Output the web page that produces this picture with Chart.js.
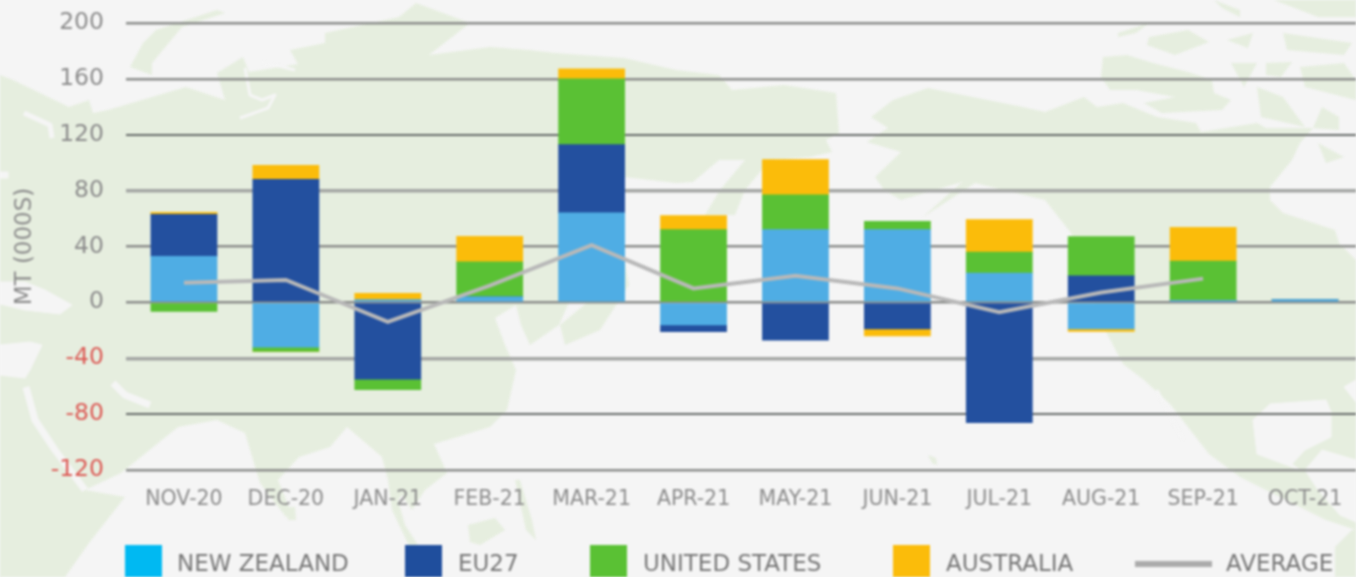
<!DOCTYPE html>
<html><head><meta charset="utf-8">
<script src="https://cdn.jsdelivr.net/npm/chart.js@4"></script>
<style>
html,body{margin:0;padding:0;background:#f5f5f5;overflow:hidden}
#wrap{position:relative;width:1356px;height:577px;overflow:hidden;filter:blur(.8px)}
#map,#c{position:absolute;left:0;top:0}
.lg{position:absolute;font:23px "DejaVu Sans",sans-serif;color:#777;line-height:26px;top:550px;white-space:nowrap}
.sw{position:absolute;top:545px;width:37px;height:40px}
.ln{position:absolute;top:561px;height:6px;width:77px;background:#ababab}
</style></head><body>
<div id="wrap">
<svg id="map" width="1356" height="577" viewBox="0 0 1356 577">
<g fill="#e6eedf">
<polygon points="0,75 13,80 69,107 89,100 93,113 108,110 186,87 225,100 217,73 243,57 249,72 304,63 304,75 290,50 325,43 325,33 399,17 416,3 470,23 429,55 490,47 529,50 555,53 624,58 676,70 719,75 732,90 784,85 836,93 839,133 826,140 832,152 810,157 770,160 745,190 735,215 705,215 720,190 745,160 719,160 693,182 676,183 624,177 600,190 590,250 570,300 559,325 530,345 521,325 516,305 495,318 505,345 516,370 507,410 490,427 434,444 447,473 425,490 412,510 402,495 398,500 405,525 418,545 410,548 392,510 388,480 382,457 347,427 330,447 299,457 278,480 293,517 286,517 260,483 245,433 217,420 178,427 121,473 85,490 125,497 89,543 65,577 0,577"/>
<polygon points="156,30 217,10 225,13 182,27 152,63 152,75 130,67 143,43"/>
<polygon points="871,117 893,100 928,88 1023,107 1045,112 1084,97 1097,107 1123,103 1157,117 1196,123 1201,132 1257,123 1266,128 1313,128 1300,143 1292,160 1270,187 1270,200 1283,213 1335,230 1339,243 1356,260 1356,530 1352,530 1335,547 1335,577 1356,577 1356,530 1326,520 1240,477 1209,454 1170,404 1144,380 1123,364 1105,330 1090,290 1071,233 1045,200 975,183 923,217 962,182 901,200 884,190 875,177 901,152 867,142 888,128"/>
<polygon points="1103,57 1127,55 1153,63 1188,72 1212,80 1214,93 1231,100 1222,110 1162,113 1144,103 1175,97 1136,90 1110,90 1101,77"/>
<polygon points="1149,37 1188,30 1209,42 1175,55 1147,45"/>
<polygon points="1118,33 1149,23 1136,33 1118,37"/>
<polygon points="1227,40 1253,33 1248,48"/>
<polygon points="1283,33 1352,43 1344,55 1287,50"/>
<polygon points="1274,0 1356,0 1356,17 1318,17"/>
<polygon points="1214,0 1240,10 1240,17 1222,8"/>
<polygon points="1266,63 1292,62 1281,77 1266,75"/>
<polygon points="1300,67 1344,63 1356,80 1356,100 1305,87"/>
<polygon points="1257,87 1283,97 1305,127 1261,117"/>
<polygon points="1322,107 1339,117 1339,130 1313,128"/>
<polygon points="1318,143 1344,157 1326,163"/>
<polygon points="1231,63 1257,63 1244,87"/>
<polygon points="560,325 590,300 625,262 629,285 600,330 565,345"/>
<polygon points="468,525 495,518 505,530 480,545 470,542"/>
<polygon points="515,480 520,480 532,520 536,540 526,530"/>
<polygon points="286,507 295,507 296,520 288,520"/>
<polygon points="928,455 936,458 937,465 932,463"/>
</g>
<g fill="#f5f5f5" stroke="#f5f5f5">
<polygon points="0,282 25,282 45,290 72,305 60,314 25,310 0,304"/>
<polygon points="0,345 30,342 42,345 30,370 25,378 0,375"/>
<polygon points="1253,420 1270,404 1326,400 1331,412 1331,437 1305,450 1292,464 1300,470 1257,454"/>
<polygon points="1322,450 1356,460 1356,522 1340,515 1318,490 1305,470"/>
<polygon points="1344,387 1356,380 1356,402"/>
<polygon points="0,172 8,172 8,178 0,178"/>
</g>
<g fill="none" stroke="#f5f5f5" stroke-linejoin="round">
<polyline stroke-width="7" points="26,387 35,420 55,450 85,490"/>
<polyline stroke-width="7" points="113,383 125,395 150,405"/>
<polyline stroke-width="5" points="24,113 50,125 52,138"/>
<polyline stroke-width="3" points="1157,390 1170,415 1183,440"/>
<polyline stroke-width="3" points="245,68 250,95 262,100 275,95 268,108 240,118"/>
<polyline stroke-width="3" points="262,62 295,70"/>
</g>
</svg>
<canvas id="c" width="1356" height="577"></canvas>
</div>
<script>
const months=['NOV-20','DEC-20','JAN-21','FEB-21','MAR-21','APR-21','MAY-21','JUN-21','JUL-21','AUG-21','SEP-21','OCT-21'];
const newZealand=[33,-32,2,4,64,-16,52,52,21,-19,1.5,2];
const eu27=[30,88,-55,0,49,-5,-27,-19,-86,19,0,0];
const unitedStates=[-6.5,-3,-7.5,25,47,52,25,6,15,28,28,0];
const australia=[1.5,10,4.5,18,7,10,25,0,23,-1.5,24,0];
const australiaNeg=[0,0,0,0,0,0,0,-5,0,0,0,0];
const average=[14,16,-14,12,41,10,19,10,-7,7,17,null];
const yTicks=[200,160,120,80,40,0,-40,-80,-120];
const seriesNames=['NEW ZEALAND','EU27','UNITED STATES','AUSTRALIA','AVERAGE'];
const barColors=['#4fade4','#23509f','#5ac134','#fbbc0a'];
const legendColors=['#00b9f2','#1f4e9d','#5ac134','#fbbc0a'];
const lineColor='#b8b8b8';
const thick={80:3.5,'-40':3.5}, thin={120:2,'-80':2};
const gridW=v=>thick[v]||thin[v]||2.5;
const gridC=v=>thick[v]?'#a4a6a4':(thin[v]?'#666a68':'#8b8d8b');
const bar=(label,data,color)=>({type:'bar',label,data,backgroundColor:color,stack:'s',barPercentage:.647,categoryPercentage:1,order:2,borderWidth:0,inflateAmount:.4});
new Chart(document.getElementById('c'),{
 data:{labels:months,datasets:[
  bar(seriesNames[0],newZealand,barColors[0]),
  bar(seriesNames[1],eu27,barColors[1]),
  bar(seriesNames[2],unitedStates,barColors[2]),
  bar(seriesNames[3],australia,barColors[3]),
  bar(seriesNames[3]+' (negative)',australiaNeg,barColors[3]),
  {type:'line',label:seriesNames[4],data:average,borderColor:lineColor,borderWidth:4,pointRadius:0,tension:0,order:1,stack:'a',spanGaps:false}
 ]},
 options:{responsive:false,animation:false,maintainAspectRatio:false,
  layout:{padding:{top:23,right:0,bottom:0,left:0}},
  plugins:{legend:{display:false},tooltip:{enabled:false}},
  scales:{
   x:{stacked:true,grid:{display:false},border:{display:false},
      afterFit(s){s.height=107;s.paddingLeft=0;s.paddingRight=0},
      ticks:{autoSkip:false,maxRotation:0,padding:9,color:'#8c8c8c',font:{family:'"DejaVu Sans"',size:20.5}}},
   y:{stacked:true,min:-120,max:200,
      afterBuildTicks(s){s.ticks=yTicks.map(value=>({value}))},
      afterFit(s){s.width=133;s.paddingTop=0;s.paddingBottom=0},
      border:{display:false},
      grid:{tickLength:7,lineWidth:c=>gridW(c.tick.value),color:c=>gridC(c.tick.value)},
      title:{display:true,text:'MT (000S)',color:'#8c8c8c',font:{family:'"DejaVu Sans"',size:23},padding:{top:11,bottom:0}},
      ticks:{padding:22,color:c=>c.tick.value<0?'#dc5a55':'#8c8c8c',font:{family:'"DejaVu Sans"',size:23.5}}}
  }}
});
const wrap=document.getElementById('wrap');
const boxX=[125,405,590,893], textX=[177,458,643,946,1226];
seriesNames.forEach((n,i)=>{
 if(i<4){const b=document.createElement('div');b.className='sw';b.style.left=boxX[i]+'px';b.style.background=legendColors[i];wrap.appendChild(b);}
 else{const l=document.createElement('div');l.className='ln';l.style.left='1135px';wrap.appendChild(l);}
 const t=document.createElement('div');t.className='lg';t.style.left=textX[i]+'px';t.textContent=n;wrap.appendChild(t);
});
</script>
</body></html>
